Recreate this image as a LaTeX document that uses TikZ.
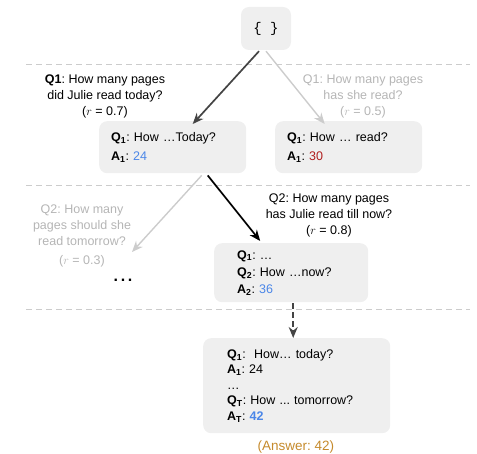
\documentclass[tikz,border=0pt]{standalone}
\usepackage{fontspec}
\setmainfont{Liberation Sans}
\setmonofont{Liberation Mono}
\frenchspacing
\definecolor{boxgray}{HTML}{EFEFEF}
\definecolor{fadegray}{HTML}{B5B5B5}
\definecolor{linegray}{HTML}{CCCCCC}
\definecolor{darkarrow}{HTML}{444444}
\definecolor{ansblue}{HTML}{4A86E8}
\definecolor{ansred}{HTML}{B01C1C}
\definecolor{ansorange}{HTML}{C58A2C}
\usetikzlibrary{calc, arrows.meta}
\newcommand{\qsub}[2]{\textbf{#1}\textsubscript{\textbf{#2}}}

\begin{document}
\begin{tikzpicture}[
  x=1pt, y=-1pt,
  every node/.style={font=\fontsize{12.5}{14}\selectfont},
  state/.style={fill=boxgray, rounded corners=8pt, anchor=north west,
                align=left, inner xsep=12pt},
  qlabel/.style={align=center, font=\fontsize{12.5}{16}\selectfont},
  faded/.style={qlabel, text=fadegray},
  sep/.style={draw=linegray, line width=0.8pt, dash pattern=on 6pt off 4pt},
  pick/.style={-{Stealth[length=11pt, width=9pt]}, line width=1.7pt},
  skip/.style={-{Stealth[length=11pt, width=9pt]}, line width=1.4pt, draw=linegray},
]
\useasboundingbox (0,0) rectangle (477,454);

% separators
\draw[sep] (26,64) -- (470,64);
\draw[sep] (26,185) -- (470,185);
\draw[sep] (26,309) -- (470,309);

% states
\node[state, anchor=center, minimum width=50pt, minimum height=43pt,
      font=\fontsize{14}{16}\ttfamily] (root) at (266,28.5) {\{~\}};
\node[state, text width=123pt, minimum height=52pt] (sA) at (99,121) {
  \qsub{Q}{1}: How …Today?\\[5pt]
  \qsub{A}{1}: \textcolor{ansblue}{24}
};
\node[state, text width=123pt, minimum height=52pt] (sB) at (275,121) {
  \qsub{Q}{1}: How … read?\\[5pt]
  \qsub{A}{1}: \textcolor{ansred}{30}
};
\node[state, inner xsep=23pt, text width=108pt, minimum height=59pt] (sC) at (214,243) {
  \qsub{Q}{1}: …\\[3pt]
  \qsub{Q}{2}: How …now?\\[3pt]
  \qsub{A}{2}: \textcolor{ansblue}{36}
};
\node[state, inner xsep=24pt, text width=139pt, minimum height=95pt] (sD) at (203,338) {
  \qsub{Q}{1}:\ \ How… today?\\[1.5pt]
  \qsub{A}{1}: 24\\[1.5pt]
  …\\[1.5pt]
  \qsub{Q}{T}: How ... tomorrow?\\[1.5pt]
  \qsub{A}{T}: \textcolor{ansblue}{\textbf{42}}
};

% question labels
\node[qlabel] (qA) at (105,96.5) {\textbf{Q1}: How many pages\\did Julie read today?\\($r$ = 0.7)};
\node[faded] (qB) at (363,96.5) {Q1: How many pages\\has she read?\\($r$ = 0.5)};
\node[faded] (qC) at (82,236) {Q2: How many\\pages should she\\read tomorrow?\\[3pt]($r$ = 0.3)};
\node[qlabel] (qD) at (329,215) {Q2: How many pages\\has Julie read till now?\\($r$ = 0.8)};
\node[font=\fontsize{16}{16}\selectfont\bfseries] (more) at (123,280) {.\,.\,.};
\node[text=ansorange, font=\fontsize{13.5}{15}\selectfont] (answer) at (296,447) {(Answer: 42)};

% expansions
\draw[pick, draw=darkarrow] ($(root.south)+(-7,1)$) -- ($(sA.north)+(20,3)$);
\draw[skip] ($(root.south)+(0,1)$) -- ($(sB.north)+(-24,3)$);
\draw[pick, draw=black] ($(sA.south)+(35,2)$) -- ($(sC.north)+(-31,-2)$);
\draw[skip] ($(sA.south)+(29,2)$) -- (132,252);
\draw[pick, draw=darkarrow, dash pattern=on 6pt off 3pt, line width=1.8pt]
  ($(sC.south)+(2,1)$) -- ($(sD.north)+(-3.5,0)$);
\end{tikzpicture}
\end{document}
